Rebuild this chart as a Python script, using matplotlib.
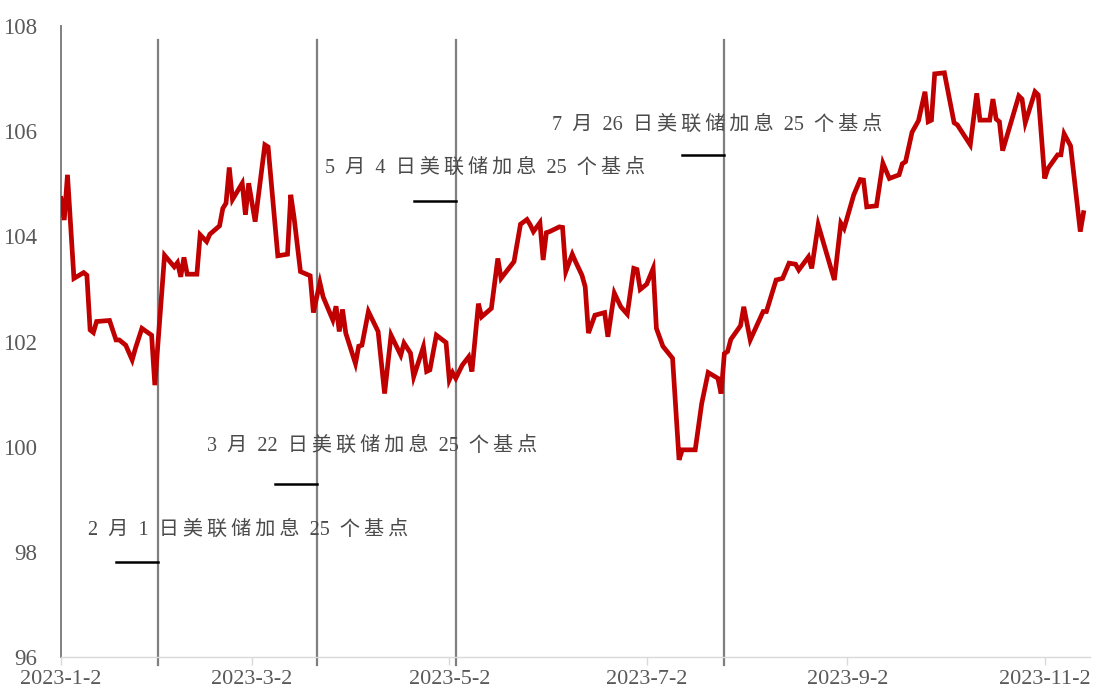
import matplotlib
matplotlib.use("Agg")
import matplotlib.pyplot as plt
import pandas as pd

# US dollar index, 2023
dates = [
    "2023-01-02", "2023-01-03", "2023-01-04", "2023-01-06", "2023-01-09", "2023-01-10",
    "2023-01-11", "2023-01-12", "2023-01-13", "2023-01-17", "2023-01-19", "2023-01-20",
    "2023-01-22", "2023-01-24", "2023-01-25", "2023-01-27", "2023-01-30", "2023-01-31",
    "2023-02-03", "2023-02-06", "2023-02-07", "2023-02-08", "2023-02-09", "2023-02-10",
    "2023-02-13", "2023-02-14", "2023-02-16", "2023-02-17", "2023-02-20", "2023-02-21",
    "2023-02-22", "2023-02-23", "2023-02-24", "2023-02-27", "2023-02-28", "2023-03-01",
    "2023-03-03", "2023-03-06", "2023-03-07", "2023-03-10", "2023-03-13", "2023-03-14",
    "2023-03-15", "2023-03-17", "2023-03-20", "2023-03-21", "2023-03-23", "2023-03-24",
    "2023-03-27", "2023-03-28", "2023-03-29", "2023-03-30", "2023-03-31", "2023-04-03",
    "2023-04-04", "2023-04-05", "2023-04-07", "2023-04-10", "2023-04-12", "2023-04-14",
    "2023-04-17", "2023-04-18", "2023-04-20", "2023-04-21", "2023-04-24", "2023-04-25",
    "2023-04-26", "2023-04-28", "2023-05-01", "2023-05-02", "2023-05-03", "2023-05-04",
    "2023-05-06", "2023-05-08", "2023-05-09", "2023-05-11", "2023-05-12", "2023-05-15",
    "2023-05-17", "2023-05-18", "2023-05-22", "2023-05-24", "2023-05-26", "2023-05-27",
    "2023-05-28", "2023-05-30", "2023-05-31", "2023-06-01", "2023-06-02", "2023-06-05",
    "2023-06-06", "2023-06-07", "2023-06-09", "2023-06-10", "2023-06-12", "2023-06-13",
    "2023-06-14", "2023-06-16", "2023-06-19", "2023-06-20", "2023-06-22", "2023-06-24",
    "2023-06-26", "2023-06-28", "2023-06-29", "2023-06-30", "2023-07-02", "2023-07-04",
    "2023-07-05", "2023-07-07", "2023-07-10", "2023-07-12", "2023-07-13", "2023-07-17",
    "2023-07-19", "2023-07-21", "2023-07-24", "2023-07-25", "2023-07-26", "2023-07-27",
    "2023-07-28", "2023-07-31", "2023-08-01", "2023-08-03", "2023-08-07", "2023-08-08",
    "2023-08-11", "2023-08-13", "2023-08-15", "2023-08-17", "2023-08-18", "2023-08-21",
    "2023-08-22", "2023-08-24", "2023-08-29", "2023-08-31", "2023-09-01", "2023-09-04",
    "2023-09-06", "2023-09-07", "2023-09-08", "2023-09-11", "2023-09-13", "2023-09-15",
    "2023-09-18", "2023-09-19", "2023-09-20", "2023-09-22", "2023-09-24", "2023-09-26",
    "2023-09-27", "2023-09-28", "2023-09-29", "2023-10-02", "2023-10-04", "2023-10-05",
    "2023-10-06", "2023-10-10", "2023-10-12", "2023-10-13", "2023-10-16", "2023-10-17",
    "2023-10-18", "2023-10-19", "2023-10-20", "2023-10-25", "2023-10-26", "2023-10-27",
    "2023-10-30", "2023-10-31", "2023-11-02", "2023-11-03", "2023-11-06", "2023-11-07",
    "2023-11-08", "2023-11-10", "2023-11-13", "2023-11-14",
]
dxy = [
    104.72, 104.31, 105.17, 103.20, 103.31, 103.26,
    102.22, 102.17, 102.38, 102.40, 102.03, 102.03,
    101.93, 101.65, 101.87, 102.25, 102.12, 101.17,
    103.64, 103.42, 103.50, 103.23, 103.60, 103.28,
    103.28, 104.03, 103.90, 104.04, 104.20, 104.53,
    104.63, 105.31, 104.70, 105.01, 104.41, 105.01,
    104.28, 105.74, 105.70, 103.63, 103.66, 104.79,
    104.37, 103.33, 103.25, 102.55, 103.12, 102.85,
    102.41, 102.67, 102.19, 102.61, 102.16, 101.58,
    101.91, 101.93, 102.57, 102.19, 101.01, 102.12,
    101.74, 101.97, 101.78, 101.33, 101.90, 101.43,
    101.46, 102.12, 101.98, 101.27, 101.41, 101.30,
    101.55, 101.71, 101.43, 102.72, 102.47, 102.63,
    103.58, 103.20, 103.52, 104.23, 104.32, 104.22,
    104.09, 104.26, 103.55, 104.07, 104.09, 104.18,
    104.17, 103.33, 103.66, 103.52, 103.26, 103.04,
    102.16, 102.50, 102.55, 102.09, 102.92, 102.66,
    102.52, 103.39, 103.37, 102.99, 103.09, 103.39,
    102.25, 101.91, 101.68, 99.75, 99.94, 99.94,
    100.82, 101.41, 101.30, 101.01, 101.77, 101.81,
    102.04, 102.30, 102.66, 102.03, 102.57, 102.57,
    103.17, 103.20, 103.49, 103.47, 103.36, 103.61,
    103.39, 104.22, 103.17, 104.25, 104.15, 104.79,
    105.08, 105.07, 104.56, 104.58, 105.39, 105.10,
    105.17, 105.38, 105.42, 105.98, 106.20, 106.75,
    106.18, 106.21, 107.09, 107.11, 106.47, 106.16,
    106.12, 105.74, 106.72, 106.21, 106.21, 106.61,
    106.23, 106.18, 105.63, 106.67, 106.61, 106.16,
    106.75, 106.69, 105.10, 105.29, 105.55, 105.55,
    105.95, 105.72, 104.09, 104.45,
]

# Fed rate hikes of 25 bp
hike_dates = ["2023-02-01", "2023-03-22", "2023-05-04", "2023-07-26"]
hike_labels = [
    "2 月 1 日美联储加息 25 个基点",
    "3 月 22 日美联储加息 25 个基点",
    "5 月 4 日美联储加息 25 个基点",
    "7 月 26 日美联储加息 25 个基点",
]

tick_dates = ["2023-01-02", "2023-03-02", "2023-05-02", "2023-07-02", "2023-09-02", "2023-11-02"]
tick_labels = ["2023-1-2", "2023-3-2", "2023-5-2", "2023-7-2", "2023-9-2", "2023-11-2"]
y_ticks = [96, 98, 100, 102, 104, 106, 108]

# serif digits, CJK glyphs from Noto, spacing glyphs from DejaVu if needed
caption_family = ["Liberation Serif", "Noto Sans CJK SC", "DejaVu Sans"]
label_grey = "#595959"
caption_grey = "#4a4a4a"


def spaced(s):
    """Widen the caption: en spaces around numbers, thin gaps between CJK glyphs."""
    out = []
    for i, ch in enumerate(s):
        if ch == " ":
            out.append("\u2002")
            continue
        out.append(ch)
        nxt = s[i + 1] if i + 1 < len(s) else ""
        if ord(ch) > 0x2E80 and nxt and ord(nxt) > 0x2E80:
            out.append("\u2009")
    return "".join(out)


x = pd.to_datetime(dates)
hikes = pd.to_datetime(hike_dates)

fig = plt.figure(figsize=(10.93, 6.93), dpi=100)
ax = fig.add_axes([61 / 1093, 36 / 693, 1029 / 1093, 631 / 693])

ax.plot(x, dxy, color="#C00000", lw=3.4, solid_joinstyle="miter", zorder=3)

ax.set_xlim(pd.Timestamp("2023-01-02"), pd.Timestamp("2023-11-16"))
ax.set_ylim(96, 108)

ax.set_yticks(y_ticks)
ax.set_yticklabels([str(v) for v in y_ticks], family="Liberation Serif",
                   fontsize=16.5, color=label_grey)
ax.set_xticks(pd.to_datetime(tick_dates))
ax.set_xticklabels(tick_labels, family="Liberation Serif", fontsize=16, color=label_grey)
ax.tick_params(axis="y", length=0, pad=17)
ax.tick_params(axis="x", length=6, width=1, color="#d9d9d9", pad=3)

for side in ("top", "right"):
    ax.spines[side].set_visible(False)
ax.spines["left"].set_color("#808080")
ax.spines["left"].set_linewidth(1.4)
ax.spines["bottom"].set_color("#d9d9d9")
ax.spines["bottom"].set_linewidth(1.0)

# vertical markers at each hike, with a short leader and a caption
text_pos = [(8.3, 98.41), (45.1, 100.01), (81.6, 105.30), (151.7, 106.12)]
leader_y = [97.81, 99.29, 104.67, 105.55]
start = pd.Timestamp("2023-01-02")
for d, lab, (tx, ty), ly in zip(hikes, hike_labels, text_pos, leader_y):
    ax.axvline(d, ymin=-0.012, ymax=0.978, color="#7f7f7f", lw=1.6,
               clip_on=False, zorder=2)
    ax.plot([d - pd.Timedelta(days=13), d], [ly, ly], color="black", lw=1.8, zorder=2)
    ax.text(start + pd.Timedelta(days=tx), ty, spaced(lab), family=caption_family,
            fontsize=14.5, color=caption_grey, va="center", ha="left", zorder=4)

fig.savefig("out.png", dpi=100, facecolor="white")
